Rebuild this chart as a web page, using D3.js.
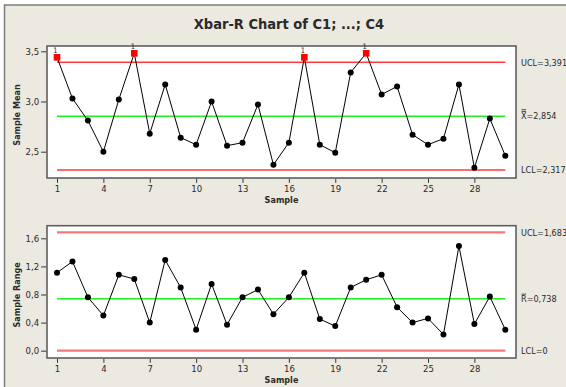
<!DOCTYPE html>
<html>
<head>
<meta charset="utf-8">
<script src="https://cdn.jsdelivr.net/npm/d3@7"></script>
<style>
  html, body { margin: 0; padding: 0; background: #ffffff; }
  svg { display: block; }
  text { font-family: 'DejaVu Sans Condensed', 'DejaVu Sans', sans-serif; fill: #2a2a2a; }
</style>
</head>
<body>
<svg id="chart" width="566" height="387"></svg>
<script>
// ---------------- DATA ----------------
const samples = d3.range(1, 31);
const sampleMeans = [3.44, 3.03, 2.81, 2.50, 3.02, 3.48, 2.68, 3.17, 2.64, 2.57,
                     3.00, 2.56, 2.59, 2.97, 2.37, 2.59, 3.44, 2.57, 2.49, 3.29,
                     3.48, 3.07, 3.15, 2.67, 2.57, 2.63, 3.17, 2.34, 2.83, 2.46];
const sampleRanges = [1.11, 1.27, 0.76, 0.50, 1.08, 1.02, 0.40, 1.29, 0.90, 0.30,
                      0.95, 0.37, 0.76, 0.87, 0.52, 0.76, 1.11, 0.45, 0.35, 0.90,
                      1.01, 1.08, 0.62, 0.40, 0.46, 0.23, 1.49, 0.38, 0.77, 0.30];
const meanLimits = { ucl: 3.391, center: 2.854, lcl: 2.317 };
const rangeLimits = { ucl: 1.683, center: 0.738, lcl: 0 };
const meanLimitLabels = ["UCL=3,391", "=2,854", "LCL=2,317"];
const rangeLimitLabels = ["UCL=1,683", "=0,738", "LCL=0"];
const xTicks = [1, 4, 7, 10, 13, 16, 19, 22, 25, 28];
const meanTicks = [2.5, 3.0, 3.5];
const rangeTicks = [0.0, 0.4, 0.8, 1.2, 1.6];
const title = "Xbar-R Chart of C1; ...; C4";

// ---------------- LAYOUT ----------------
const svg = d3.select("#chart");
const fmt = v => d3.format(".1f")(v).replace(".", ",");
const FONT = "'DejaVu Sans Condensed', 'DejaVu Sans', sans-serif";

svg.append("rect").attr("x", 0).attr("y", 0).attr("width", 566).attr("height", 387).attr("fill", "#ffffff");
svg.append("rect").attr("x", 4.5).attr("y", 5).attr("width", 620).attr("height", 420)
  .attr("fill", "#ECE9E0").attr("stroke", "#7d7d7d").attr("stroke-width", 1.5);

svg.append("text").attr("x", 289).attr("y", 29).attr("text-anchor", "middle")
  .attr("font-size", 14.5).attr("font-weight", "bold").attr("fill", "#1a1a1a").text(title);

const boxL = 47, boxR = 516;
const x = d3.scaleLinear().domain([1, 30]).range([57, 505.3]);

function panel(opts) {
  const { top, bottom, y, values, limits, labels, ticks, yLabel, barSymbol } = opts;
  const g = svg.append("g");
  g.append("rect").attr("x", boxL).attr("y", top).attr("width", boxR - boxL).attr("height", bottom - top)
    .attr("fill", "#ffffff").attr("stroke", "#5e5e5e").attr("stroke-width", 1.6);

  // y axis
  const ya = g.append("g").attr("transform", `translate(${boxL - 0.8},0)`)
    .call(d3.axisLeft(y).tickValues(ticks).tickFormat(fmt).tickSize(5).tickPadding(2));
  ya.select(".domain").remove();
  ya.selectAll(".tick line").attr("stroke", "#333");
  ya.selectAll(".tick text").attr("font-size", 9.5).attr("fill", "#2a2a2a").style("font-family", FONT);

  // x axis
  const xa = g.append("g").attr("transform", `translate(0,${bottom + 0.8})`)
    .call(d3.axisBottom(x).tickValues(xTicks).tickFormat(d3.format("d")).tickSize(4).tickPadding(2));
  xa.select(".domain").remove();
  xa.selectAll(".tick line").attr("stroke", "#333");
  xa.selectAll(".tick text").attr("font-size", 9.5).attr("fill", "#2a2a2a").style("font-family", FONT);

  // axis titles
  g.append("text").attr("x", (boxL + boxR) / 2).attr("y", bottom + 24.5).attr("text-anchor", "middle")
    .attr("font-size", 9).attr("font-weight", "bold").attr("fill", "#1a1a1a").text("Sample");
  g.append("text").attr("transform", `translate(20,${(top + bottom) / 2 + 3}) rotate(-90)`).attr("text-anchor", "middle")
    .attr("font-size", 9).attr("font-weight", "bold").attr("fill", "#1a1a1a").text(yLabel);

  // control lines
  const x1 = x(1), x2 = x(30);
  ["ucl", "lcl"].forEach(k => {
    g.append("line").attr("x1", x1).attr("x2", x2).attr("y1", y(limits[k])).attr("y2", y(limits[k]))
      .attr("stroke", opts.limitColor).attr("stroke-width", opts.limitWidth);
  });
  g.append("line").attr("x1", x1).attr("x2", x2).attr("y1", y(limits.center)).attr("y2", y(limits.center))
    .attr("stroke", "#22EE22").attr("stroke-width", 1.5);

  // limit labels
  const lx = 521, fs = 9;
  g.append("text").attr("x", lx).attr("y", y(limits.ucl) + 3.3).attr("font-size", fs).text(labels[0]);
  g.append("text").attr("x", lx).attr("y", y(limits.lcl) + 3.3).attr("font-size", fs).text(labels[2]);
  const cy = y(limits.center) + 3.3;
  const sym = g.append("text").attr("x", lx).attr("y", cy).attr("font-size", fs).text(barSymbol);
  const sw = sym.node().getComputedTextLength();
  g.append("text").attr("x", lx + sw).attr("y", cy).attr("font-size", fs).text(labels[1]);
  const nBars = barSymbol === "X" ? 2 : 1;
  for (let i = 0; i < nBars; i++) {
    g.append("line").attr("x1", lx + 0.5).attr("x2", lx + sw - 0.5)
      .attr("y1", cy - 8 - i * 1.8).attr("y2", cy - 8 - i * 1.8)
      .attr("stroke", "#2a2a2a").attr("stroke-width", 0.8);
  }

  // series
  const line = d3.line().x((d, i) => x(samples[i])).y(d => y(d));
  g.append("path").datum(values).attr("d", line).attr("fill", "none").attr("stroke", "#000").attr("stroke-width", 1);

  const pts = values.map((v, i) => ({ v, i, out: v > limits.ucl || v < limits.lcl }));
  g.selectAll("circle.pt").data(pts.filter(d => !d.out)).enter().append("circle")
    .attr("cx", d => x(samples[d.i])).attr("cy", d => y(d.v)).attr("r", 3).attr("fill", "#000");
  const bad = pts.filter(d => d.out);
  g.selectAll("rect.pt").data(bad).enter().append("rect")
    .attr("x", d => x(samples[d.i]) - 3.3).attr("y", d => y(d.v) - 3.3).attr("width", 6.6).attr("height", 6.6)
    .attr("fill", "#FF0000");
  g.selectAll("text.flag").data(bad).enter().append("text")
    .attr("x", d => x(samples[d.i]) - 1.5).attr("y", d => y(d.v) - 4.2).attr("font-size", 7.5)
    .attr("text-anchor", "middle").attr("fill", "#333").text("1");
}

panel({
  top: 46, bottom: 178,
  y: d3.scaleLinear().domain([2.5, 3.5]).range([151.7, 51.3]),
  values: sampleMeans, limits: meanLimits, labels: meanLimitLabels, ticks: meanTicks,
  yLabel: "Sample Mean", barSymbol: "X",
  limitColor: "#FF3B3B", limitWidth: 1.5
});
panel({
  top: 225.7, bottom: 358,
  y: d3.scaleLinear().domain([0, 1.6]).range([350.7, 238.3]),
  values: sampleRanges, limits: rangeLimits, labels: rangeLimitLabels, ticks: rangeTicks,
  yLabel: "Sample Range", barSymbol: "R",
  limitColor: "#F47878", limitWidth: 2.2
});
</script>
</body>
</html>
